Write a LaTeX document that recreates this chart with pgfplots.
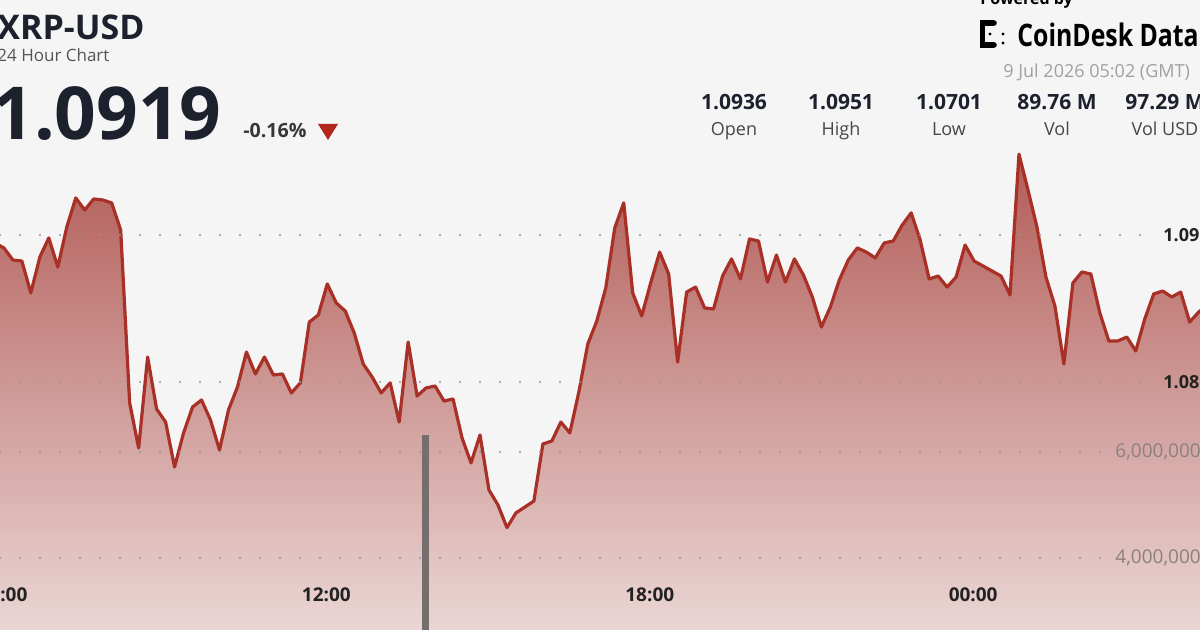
\documentclass[border=0pt]{standalone}
\usepackage{fontspec}
\setmainfont{Open Sans}
\usepackage{pgfplots}
\pgfplotsset{compat=1.18}
\usepackage{pgfplotstable}
\definecolor{bg}{RGB}{245,245,245}
\definecolor{titlecol}{RGB}{28,33,45}
\definecolor{subcol}{RGB}{85,85,85}
\definecolor{pctcol}{RGB}{55,55,55}
\definecolor{redtri}{RGB}{178,40,28}
\definecolor{statlabel}{RGB}{70,70,70}
\definecolor{datecol}{RGB}{160,160,160}
\definecolor{tickcol}{RGB}{34,34,34}
\definecolor{volcol}{RGB}{140,128,126}
\definecolor{barcol}{RGB}{118,110,108}
\definecolor{gridcol}{RGB}{150,150,150}
\definecolor{linecol}{RGB}{168,48,38}
\definecolor{filltop}{RGB}{178,92,87}
\definecolor{fillbot}{RGB}{240,226,225}

\pgfplotstableread{
t p
351 1.08946
361 1.08912
371 1.08830
381 1.08823
391 1.08606
401 1.08850
411 1.08980
421 1.08782
431 1.09054
441 1.09252
451 1.09170
461 1.09245
471 1.09238
481 1.09218
491 1.09034
501 1.07858
511 1.07552
521 1.08170
531 1.07817
541 1.07728
551 1.07422
561 1.07654
571 1.07830
581 1.07878
591 1.07742
601 1.07538
611 1.07810
621 1.07966
631 1.08204
641 1.08055
651 1.08170
661 1.08048
671 1.08055
681 1.07926
691 1.07994
701 1.08408
711 1.08456
721 1.08667
731 1.08538
741 1.08483
751 1.08334
761 1.08123
771 1.08034
781 1.07926
791 1.07994
801 1.07728
811 1.08272
821 1.07905
831 1.07960
841 1.07973
851 1.07871
861 1.07885
871 1.07620
881 1.07450
891 1.07640
901 1.07266
911 1.07164
921 1.07010
931 1.07110
941 1.07150
951 1.07191
961 1.07579
971 1.07599
981 1.07728
991 1.07654
1001 1.07932
1011 1.08259
1021 1.08415
1031 1.08640
1041 1.09048
1051 1.09218
1061 1.08606
1071 1.08449
1081 1.08674
1091 1.08884
1101 1.08735
1111 1.08136
1121 1.08612
1131 1.08646
1141 1.08504
1151 1.08497
1161 1.08721
1171 1.08837
1181 1.08701
1191 1.08973
1201 1.08959
1211 1.08680
1221 1.08864
1231 1.08680
1241 1.08837
1251 1.08728
1261 1.08578
1271 1.08374
1281 1.08510
1291 1.08694
1301 1.08830
1311 1.08912
1321 1.08884
1331 1.08844
1341 1.08946
1351 1.08959
1361 1.09068
1371 1.09150
1381 1.08966
1391 1.08701
1401 1.08721
1411 1.08646
1421 1.08714
1431 1.08932
1441 1.08823
1451 1.08789
1461 1.08755
1471 1.08721
1481 1.08592
1491 1.09550
1501 1.09306
1511 1.09054
1521 1.08714
1531 1.08517
1541 1.08123
1551 1.08674
1561 1.08748
1571 1.08735
1581 1.08470
1591 1.08279
1601 1.08279
1611 1.08306
1621 1.08211
1631 1.08429
1641 1.08599
1651 1.08619
1661 1.08578
1671 1.08612
1681 1.08408
1691 1.08476
1701 1.08524
}\pricedata

\begin{document}
\begin{tikzpicture}[x=1pt,y=1pt]
\useasboundingbox (0,0) rectangle (600,315);
\clip (0,0) rectangle (600,315);
\fill[bg] (0,0) rectangle (600,315);

% price axis
\begin{axis}[at={(0,0)}, anchor=south west, scale only axis, axis on top,
  width=600pt, height=315pt,
  xmin=356.66, xmax=1692.5, ymin=1.06314, ymax=1.10598,
  axis line style={draw=none}, major tick length=0pt,
  xtick={360,720,1080,1440}, xticklabels={06:00,12:00,18:00,00:00},
  xticklabel style={anchor=base, yshift=14pt, font=\bfseries\fontsize{9.5}{11}\selectfont, text=tickcol},
  ytick={1.08,1.09}, yticklabels={1.08,1.09}, yticklabel pos=right,
  yticklabel style={anchor=west, inner sep=0pt, xshift=-18.5pt, font=\bfseries\fontsize{9}{11}\selectfont, text=tickcol}]
\addplot[draw=none, top color=filltop, bottom color=fillbot] table[x=t,y=p]{\pricedata}
  -- (axis cs:1701,1.060) -- (axis cs:351,1.060) -- cycle;
\addplot[linecol, line width=1.6pt, line join=round] table[x=t,y=p]{\pricedata};
\end{axis}

% volume axis
\begin{axis}[at={(0,0)}, anchor=south west, scale only axis, axis on top,
  width=600pt, height=315pt,
  xmin=356.66, xmax=1692.5, ymin=2642000, ymax=14530000,
  axis line style={draw=none}, major tick length=0pt,
  xtick=\empty, scaled y ticks=false,
  ytick={4000000,6000000}, yticklabels={{4,000,000},{6,000,000}}, yticklabel pos=right,
  yticklabel style={anchor=west, inner sep=0pt, xshift=-42.5pt, font=\fontsize{9.5}{11}\selectfont, text=volcol}]
\addplot[ybar, bar width=3.5pt, fill=barcol, draw=none] coordinates {(830,6320000)};
\end{axis}

% price grid
\begin{axis}[at={(0,0)}, anchor=south west, scale only axis,
  width=575pt, height=315pt, xmin=0, xmax=1, ymin=1.06314, ymax=1.10598,
  axis line style={draw=none}, major tick length=0pt, xtick=\empty,
  ytick={1.08,1.09}, yticklabels={}, ymajorgrids,
  major grid style={gridcol, line width=1.1pt, line cap=round, dash pattern=on 0pt off 10pt}]
\addplot[draw=none] coordinates {(0.5,1.08)};
\end{axis}

% volume grid
\begin{axis}[at={(0,0)}, anchor=south west, scale only axis,
  width=555pt, height=315pt, xmin=0, xmax=1, ymin=2642000, ymax=14530000,
  axis line style={draw=none}, major tick length=0pt, xtick=\empty,
  ytick={4000000,6000000}, yticklabels={}, ymajorgrids, scaled y ticks=false,
  major grid style={gridcol, line width=1.1pt, line cap=round, dash pattern=on 0pt off 10pt}]
\addplot[draw=none] coordinates {(0.5,5000000)};
\end{axis}

% header left
\node[anchor=base west, inner sep=0, text=titlecol] at (-1.5,295) {\bfseries\fontsize{17}{20}\selectfont XRP-USD};
\node[anchor=base west, inner sep=0, text=subcol] at (-1.5,284) {\fontsize{8.5}{10}\selectfont 24 Hour Chart};
\node[anchor=base west, inner sep=0, text=titlecol] at (-4,245) {\bfseries\fontsize{36.5}{40}\selectfont 1.0919};
\node[anchor=base west, inner sep=0, text=pctcol] at (121.5,246) {\bfseries\fontsize{9.8}{11}\selectfont -0.16\%};
\fill[redtri] (159,253) -- (169,253) -- (164,245) -- cycle;

% header right
\node[anchor=base west, inner sep=0, text=black] at (490,312.5) {\bfseries\fontsize{8}{9}\selectfont Powered by};
\fill[black] (490,291) rectangle (492.6,305);
\fill[black] (490,302) rectangle (497,305);
\fill[black] (490,291) rectangle (497,294);
\fill[black] (497,303.5) circle (1.4);
\fill[black] (497,292.5) circle (1.4);
\fill[black] (495,298) circle (0.8);
\fill[black] (501.5,298) circle (0.8);
\fill[black] (501.5,293.5) circle (0.8);
\node[anchor=base west, inner sep=0, text=black] at (508.5,291.5) {\scalebox{0.8}[1]{\bfseries\fontsize{15.5}{17}\selectfont CoinDesk Data}};
\node[anchor=base west, inner sep=0, text=datecol] at (501.5,276) {\fontsize{9}{10}\selectfont 9 Jul 2026 05:02 (GMT)};

\foreach \xx/\vv/\ll in {367/1.0936/Open, 420.5/1.0951/High, 474.5/1.0701/Low, 528.5/89.76 M/Vol, 582.5/97.29 M/Vol USD}{
  \node[anchor=base, inner sep=0, text=titlecol] at (\xx,260) {\bfseries\fontsize{10.5}{12}\selectfont \vv};
  \node[anchor=base, inner sep=0, text=statlabel] at (\xx,247) {\fontsize{9}{10}\selectfont \ll};
}
\end{tikzpicture}
\end{document}
